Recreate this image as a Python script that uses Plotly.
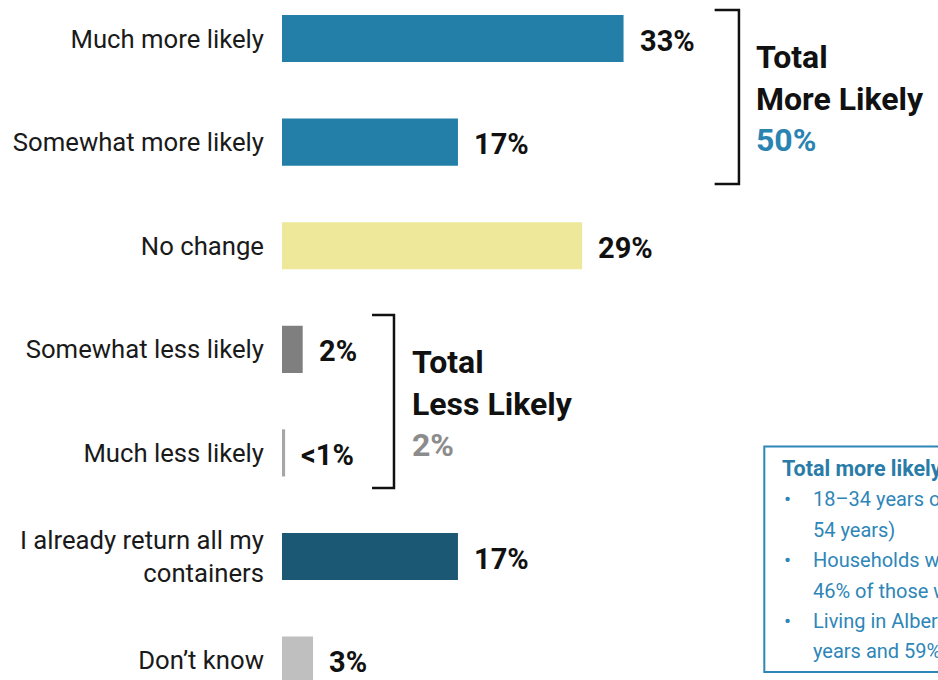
import plotly.graph_objects as go

# Survey responses, top to bottom
categories = [
    "Much more likely",
    "Somewhat more likely",
    "No change",
    "Somewhat less likely",
    "Much less likely",
    "I already return all my<br>containers",
    "Don’t know",
]
values = [33, 17, 29, 2, 0.3, 17, 3]
value_labels = ["33%", "17%", "29%", "2%", "<1%", "17%", "3%"]
bar_colors = ["#237EA8", "#237EA8", "#EEE89A", "#7F7F7F", "#A6A6A6", "#1B5874", "#BFBFBF"]

total_more = "50%"
total_less = "2%"

box_title = "Total more likely"
box_lines = [
    ("•", "18–34 years of age (58% vs. 45% of those 35–"),
    ("", "54 years)"),
    ("•", "Households with children (57% vs."),
    ("", "46% of those without)"),
    ("•", "Living in Alberta (61% of those 18–34"),
    ("", "years and 59% overall)"),
]

FONT = "Roboto"
BOX_BLUE = "#2E86B8"

fig = go.Figure(
    go.Bar(
        x=values,
        y=categories,
        orientation="h",
        marker=dict(color=bar_colors, line=dict(width=0)),
        width=0.455,
        hoverinfo="skip",
    )
)

# value labels to the right of each bar
for cat, v, lab in zip(categories, values, value_labels):
    fig.add_annotation(
        x=v, y=cat, xref="x", yref="y", text=f"<b>{lab}</b>",
        xanchor="left", yanchor="middle", xshift=14, yshift=-2, showarrow=False,
        font=dict(family=FONT, size=29, color="#111111"),
    )

# brackets grouping the "more likely" and "less likely" rows
def bracket(x0, x1, y0, y1):
    fig.add_shape(
        type="path",
        path=f"M {x0} {y0} L {x1} {y0} L {x1} {y1} L {x0} {y1}",
        xref="x", yref="y",
        line=dict(color="#111111", width=2.5),
    )

bracket(41.8, 44.15, -0.275, 1.404)
bracket(8.7, 10.82, 2.669, 4.339)

fig.add_annotation(
    x=45.6, y=0.58, xref="x", yref="y", xanchor="left", yanchor="middle",
    align="left", showarrow=False,
    text=f"<b>Total<br>More Likely<br><span style='color:#2A84B2'>{total_more}</span></b>",
    font=dict(family=FONT, size=32, color="#111111"),
)
fig.add_annotation(
    x=12.4, y=3.52, xref="x", yref="y", xanchor="left", yanchor="middle",
    align="left", showarrow=False,
    text=f"<b>Total<br>Less Likely<br><span style='color:#8C8C8C'>{total_less}</span></b>",
    font=dict(family=FONT, size=32, color="#111111"),
)

# side box with subgroup highlights
fig.add_shape(
    type="rect", xref="x", yref="y",
    x0=46.6, x1=80, y0=3.938, y1=6.115,
    line=dict(color=BOX_BLUE, width=2), fillcolor="rgba(0,0,0,0)",
)
fig.add_annotation(
    x=48.15, y=4.155, xref="x", yref="y", xanchor="left", yanchor="middle",
    showarrow=False, text=f"<b>{box_title}</b>",
    font=dict(family=FONT, size=21.5, color="#2A7CA8"),
)
for i, (bullet, line) in enumerate(box_lines):
    yv = 4.155 + (i + 1) * 0.2935
    if bullet:
        fig.add_annotation(
            x=48.35, y=yv, xref="x", yref="y", xanchor="left", yanchor="middle",
            showarrow=False, text=bullet,
            font=dict(family=FONT, size=21, color=BOX_BLUE),
        )
    fig.add_annotation(
        x=51.1, y=yv, xref="x", yref="y", xanchor="left", yanchor="middle",
        showarrow=False, text=line,
        font=dict(family=FONT, size=20, color=BOX_BLUE),
    )

fig.update_layout(
    width=938, height=680,
    margin=dict(l=282, r=0, t=0, b=0),
    plot_bgcolor="white", paper_bgcolor="white",
    showlegend=False,
    font=dict(family=FONT, size=26, color="#1A1A1A"),
)
fig.update_xaxes(range=[0, 656 / 10.35], visible=False, fixedrange=True)
fig.update_yaxes(
    type="category", categoryorder="array", categoryarray=categories,
    range=[6.192, -0.372], showgrid=False, zeroline=False, showline=False,
    ticks="", ticklabelstandoff=17, tickfont=dict(family=FONT, size=25.7, color="#1A1A1A"),
    fixedrange=True,
)

fig.write_html("out.html")
